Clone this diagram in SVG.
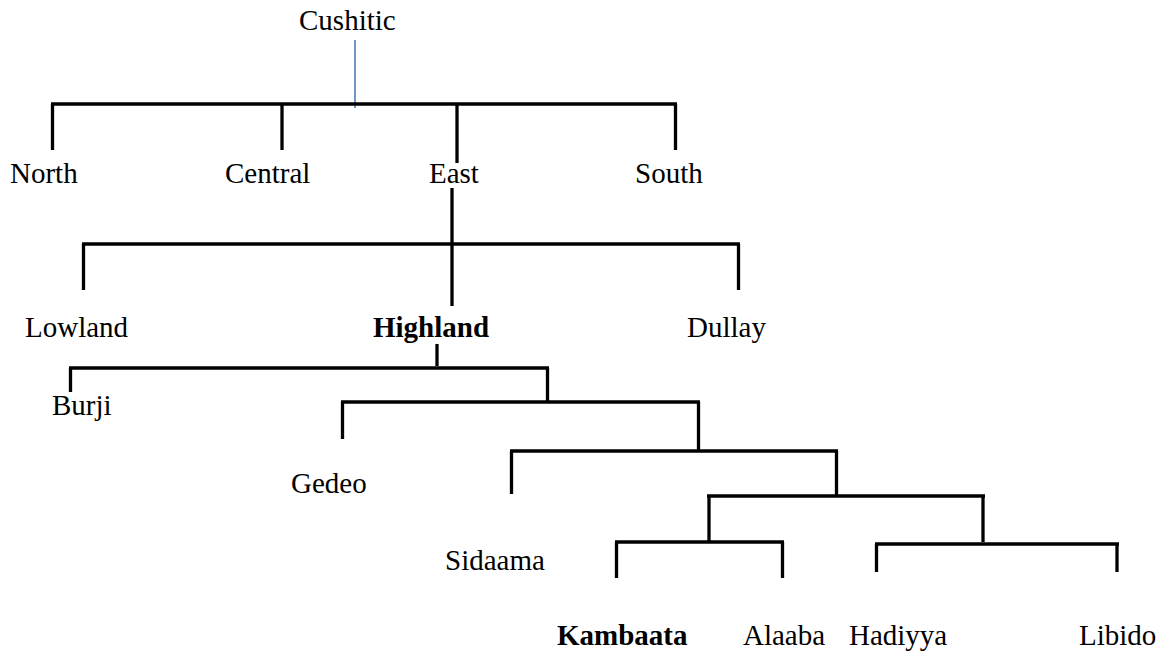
<svg xmlns="http://www.w3.org/2000/svg" width="1172" height="656" viewBox="0 0 1172 656">
<style>
text{font-family:"Liberation Serif","Times New Roman",serif;font-size:29px;fill:#000}
.b{font-weight:bold}
.c line{stroke:#000;stroke-width:3.3;stroke-linecap:butt}
.c line.blue{stroke:#4a7ebb;stroke-width:1.6}
</style>
<rect width="1172" height="656" fill="#fff"/>
<g id="connectors" class="c">
<line class="blue" x1="355" y1="40" x2="355" y2="108"/>
<line x1="51" y1="104" x2="677" y2="104"/>
<line x1="52.5" y1="104" x2="52.5" y2="150"/>
<line x1="282" y1="104" x2="282" y2="150"/>
<line x1="457" y1="104" x2="457" y2="163"/>
<line x1="675.5" y1="104" x2="675.5" y2="150"/>
<line x1="452" y1="188" x2="452" y2="243"/>
<line x1="82" y1="244" x2="740" y2="244"/>
<line x1="83.5" y1="244" x2="83.5" y2="290"/>
<line x1="452" y1="244" x2="452" y2="306"/>
<line x1="738.5" y1="244" x2="738.5" y2="290"/>
<line x1="437" y1="344" x2="437" y2="366"/>
<line x1="69" y1="368" x2="549" y2="368"/>
<line x1="70.5" y1="368" x2="70.5" y2="392"/>
<line x1="547.5" y1="368" x2="547.5" y2="402"/>
<line x1="341" y1="402" x2="700" y2="402"/>
<line x1="342.5" y1="402" x2="342.5" y2="439"/>
<line x1="698.5" y1="402" x2="698.5" y2="450"/>
<line x1="510" y1="451" x2="838" y2="451"/>
<line x1="511.5" y1="451" x2="511.5" y2="494"/>
<line x1="836.5" y1="451" x2="836.5" y2="495"/>
<line x1="707" y1="496" x2="985" y2="496"/>
<line x1="709" y1="496" x2="709" y2="541"/>
<line x1="983" y1="496" x2="983" y2="542"/>
<line x1="615" y1="542" x2="784" y2="542"/>
<line x1="616.5" y1="542" x2="616.5" y2="578"/>
<line x1="782.5" y1="542" x2="782.5" y2="578"/>
<line x1="875" y1="544" x2="1119" y2="544"/>
<line x1="876.5" y1="544" x2="876.5" y2="572"/>
<line x1="1117" y1="544" x2="1117" y2="572"/>
</g>
<g id="n-cushitic"><text x="299" y="30">Cushitic</text></g>
<g id="n-north"><text x="10" y="183">North</text></g>
<g id="n-central"><text x="225" y="183">Central</text></g>
<g id="n-east"><text x="429" y="183">East</text></g>
<g id="n-south"><text x="635" y="183">South</text></g>
<g id="n-lowland"><text x="25" y="337">Lowland</text></g>
<g id="n-highland"><text class="b" x="373" y="337">Highland</text></g>
<g id="n-dullay"><text x="687" y="337">Dullay</text></g>
<g id="n-burji"><text x="52" y="415">Burji</text></g>
<g id="n-gedeo"><text x="291" y="493">Gedeo</text></g>
<g id="n-sidaama"><text x="445" y="570">Sidaama</text></g>
<g id="n-kambaata"><text class="b" x="557" y="645">Kambaata</text></g>
<g id="n-alaaba"><text x="743" y="645">Alaaba</text></g>
<g id="n-hadiyya"><text x="849" y="645">Hadiyya</text></g>
<g id="n-libido"><text x="1079" y="645">Libido</text></g>
</svg>
